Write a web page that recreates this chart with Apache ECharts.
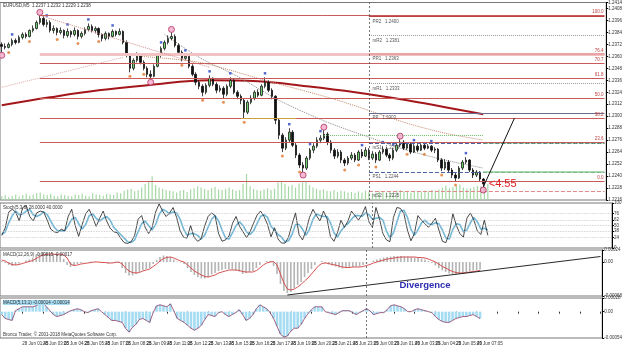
<!DOCTYPE html>
<html>
<head>
<meta charset="utf-8">
<script src="https://cdn.jsdelivr.net/npm/echarts@6/dist/echarts.min.js"></script>
<style>
  html, body { margin: 0; padding: 0; background: #fff; }
  #chart { width: 625px; height: 347px; }
</style>
</head>
<body>
<div id="chart"></div>
<script>
// EURUSD M5 bars: [open, close, low, high]
const ohlc = [
  [1.2372,1.2370,1.2364,1.2374],[1.2370,1.2369,1.2367,1.2373],[1.2369,1.2372,1.2368,1.2374],[1.2372,1.2376,1.2370,1.2378],
  [1.2376,1.2374,1.2372,1.2378],[1.2374,1.2379,1.2373,1.2381],[1.2379,1.2382,1.2377,1.2384],[1.2382,1.2380,1.2378,1.2384],
  [1.2380,1.2386,1.2379,1.2387],[1.2386,1.2388,1.2384,1.2391],[1.2388,1.2394,1.2387,1.2396],[1.2394,1.2398,1.2392,1.2401],
  [1.2398,1.2392,1.2390,1.2400],[1.2392,1.2394,1.2389,1.2397],[1.2394,1.2386,1.2384,1.2396],[1.2386,1.2388,1.2383,1.2391],
  [1.2388,1.2384,1.2381,1.2389],[1.2384,1.2386,1.2382,1.2389],[1.2386,1.2381,1.2378,1.2387],[1.2381,1.2385,1.2379,1.2388],
  [1.2385,1.2382,1.2379,1.2386],[1.2382,1.2386,1.2380,1.2389],[1.2386,1.2380,1.2377,1.2387],[1.2380,1.2383,1.2378,1.2385],
  [1.2383,1.2387,1.2381,1.2389],[1.2387,1.2390,1.2385,1.2393],[1.2390,1.2386,1.2384,1.2392],[1.2386,1.2388,1.2383,1.2390],
  [1.2388,1.2382,1.2379,1.2389],[1.2382,1.2378,1.2375,1.2383],[1.2378,1.2383,1.2376,1.2385],[1.2383,1.2380,1.2377,1.2384],
  [1.2380,1.2385,1.2379,1.2387],[1.2385,1.2382,1.2380,1.2386],[1.2382,1.2385,1.2381,1.2388],[1.2385,1.2374,1.2372,1.2386],
  [1.2374,1.2361,1.2359,1.2376],[1.2361,1.2348,1.2344,1.2363],[1.2348,1.2356,1.2346,1.2358],[1.2356,1.2361,1.2354,1.2364],
  [1.2361,1.2354,1.2352,1.2363],[1.2354,1.2348,1.2346,1.2356],[1.2348,1.2342,1.2339,1.2350],[1.2342,1.2340,1.2337,1.2346],
  [1.2340,1.2350,1.2339,1.2352],[1.2350,1.2361,1.2349,1.2363],[1.2361,1.2368,1.2359,1.2370],[1.2368,1.2374,1.2366,1.2376],
  [1.2374,1.2378,1.2372,1.2381],[1.2378,1.2380,1.2376,1.2384],[1.2380,1.2371,1.2369,1.2382],[1.2371,1.2364,1.2362,1.2373],
  [1.2364,1.2358,1.2355,1.2366],[1.2358,1.2360,1.2356,1.2362],[1.2360,1.2350,1.2348,1.2361],[1.2350,1.2342,1.2340,1.2352],
  [1.2342,1.2334,1.2331,1.2344],[1.2334,1.2330,1.2327,1.2336],[1.2330,1.2324,1.2320,1.2332],[1.2324,1.2331,1.2322,1.2333],
  [1.2331,1.2338,1.2329,1.2341],[1.2338,1.2332,1.2330,1.2339],[1.2332,1.2326,1.2323,1.2334],[1.2326,1.2328,1.2324,1.2331],
  [1.2328,1.2322,1.2318,1.2330],[1.2322,1.2330,1.2320,1.2332],[1.2330,1.2336,1.2328,1.2339],[1.2336,1.2324,1.2322,1.2337],
  [1.2324,1.2320,1.2317,1.2326],[1.2320,1.2316,1.2312,1.2322],[1.2316,1.2304,1.2298,1.2318],[1.2304,1.2314,1.2302,1.2316],
  [1.2314,1.2318,1.2312,1.2321],[1.2318,1.2324,1.2316,1.2326],[1.2324,1.2321,1.2319,1.2327],[1.2321,1.2330,1.2320,1.2332],
  [1.2330,1.2334,1.2328,1.2339],[1.2334,1.2326,1.2324,1.2336],[1.2326,1.2320,1.2317,1.2328],[1.2320,1.2296,1.2292,1.2321],
  [1.2296,1.2281,1.2277,1.2298],[1.2281,1.2268,1.2264,1.2283],[1.2268,1.2276,1.2266,1.2279],[1.2276,1.2284,1.2274,1.2288],
  [1.2284,1.2271,1.2269,1.2286],[1.2271,1.2261,1.2258,1.2273],[1.2261,1.2251,1.2248,1.2263],[1.2251,1.2248,1.2244,1.2254],
  [1.2248,1.2258,1.2246,1.2260],[1.2258,1.2266,1.2256,1.2268],[1.2266,1.2270,1.2263,1.2273],[1.2270,1.2276,1.2268,1.2279],
  [1.2276,1.2278,1.2273,1.2281],[1.2278,1.2282,1.2276,1.2286],[1.2282,1.2274,1.2271,1.2284],[1.2274,1.2266,1.2263,1.2276],
  [1.2266,1.2260,1.2257,1.2268],[1.2260,1.2264,1.2258,1.2267],[1.2264,1.2256,1.2253,1.2266],[1.2256,1.2253,1.2250,1.2258],
  [1.2253,1.2258,1.2251,1.2260],[1.2258,1.2261,1.2256,1.2264],[1.2261,1.2256,1.2254,1.2263],[1.2256,1.2264,1.2255,1.2266],
  [1.2264,1.2260,1.2258,1.2267],[1.2260,1.2266,1.2259,1.2269],[1.2266,1.2258,1.2256,1.2268],[1.2258,1.2262,1.2256,1.2265],
  [1.2262,1.2256,1.2253,1.2264],[1.2256,1.2264,1.2255,1.2266],[1.2264,1.2267,1.2262,1.2270],[1.2267,1.2261,1.2259,1.2269],
  [1.2261,1.2258,1.2255,1.2263],[1.2258,1.2266,1.2256,1.2268],[1.2266,1.2271,1.2264,1.2273],[1.2271,1.2274,1.2269,1.2277],
  [1.2274,1.2268,1.2266,1.2276],[1.2268,1.2272,1.2266,1.2274],[1.2272,1.2264,1.2262,1.2273],[1.2264,1.2270,1.2263,1.2272],
  [1.2270,1.2266,1.2264,1.2272],[1.2266,1.2271,1.2265,1.2273],[1.2271,1.2268,1.2266,1.2273],[1.2268,1.2270,1.2267,1.2272],
  [1.2270,1.2266,1.2264,1.2271],[1.2266,1.2267,1.2263,1.2269],[1.2267,1.2256,1.2254,1.2268],[1.2256,1.2248,1.2245,1.2258],
  [1.2248,1.2254,1.2246,1.2257],[1.2254,1.2246,1.2243,1.2256],[1.2246,1.2241,1.2238,1.2248],[1.2241,1.2238,1.2235,1.2243],
  [1.2238,1.2248,1.2237,1.2250],[1.2248,1.2254,1.2246,1.2256],[1.2254,1.2256,1.2252,1.2259],[1.2256,1.2246,1.2244,1.2257],
  [1.2246,1.2241,1.2238,1.2248],[1.2241,1.2244,1.2239,1.2246],[1.2244,1.2237,1.2235,1.2245],[1.2237,1.2232,1.2229,1.2238]
];

const volume = [
  60,80,50,70,90,60,80,100,70,90, 110,120,90,80,100,70,60,90,80,70,
  60,90,80,100,70,60,110,90,80,70, 100,90,80,120,110,150,170,180,140,160,
  200,260,300,380,240,200,180,160,150,140, 120,150,160,130,170,190,220,200,180,160,
  190,210,170,160,180,200,170,150,160,260, 420,220,180,160,150,170,190,160,180,280,
  300,260,220,240,200,260,280,300,240,200, 180,160,170,150,140,160,130,150,140,120,
  130,110,140,120,150,130,110,120,140,130, 120,140,130,150,160,140,130,120,150,140,
  130,150,140,160,150,170,200,230,190,210, 220,250,200,180,190,210,230,220,240,260
];

const stochMain = [
  28,45,80,86,80,60,90,94,70,60, 78,82,80,62,42,36,34,42,38,70,
  86,50,26,52,76,86,68,48,66,82, 60,44,36,34,22,12,10,14,28,64,
  72,46,32,46,80,98,82,70,78,90, 68,38,24,22,50,24,15,20,48,70,
  78,72,32,15,18,27,55,70,48,36, 23,36,55,73,82,70,52,25,45,20,
  11,11,24,52,78,30,18,38,68,86, 72,60,82,65,25,15,34,62,46,60,
  82,72,62,74,92,58,46,90,65,32, 18,14,68,90,88,76,40,16,32,72,
  62,54,46,55,66,40,15,12,34,76, 50,32,24,66,78,62,38,30,62,28
];
const stochSignal = [
  30,36,56,72,82,74,76,82,86,74, 70,74,80,74,60,46,38,38,38,50,
  64,68,54,42,52,72,76,66,60,66, 70,62,46,38,30,22,14,12,18,36,
  54,60,50,40,52,74,86,82,76,80, 78,64,42,28,32,32,28,20,28,46,
  64,72,60,40,22,20,34,50,58,50, 36,30,38,54,70,74,68,48,40,30,
  24,14,16,30,52,52,42,28,42,64, 76,72,70,70,56,34,24,38,48,54,
  64,72,72,70,78,74,64,66,68,62, 38,22,34,58,82,84,68,42,28,40,
  56,62,54,52,56,54,40,22,20,42, 54,52,36,40,56,68,58,42,44,40
];
const stochLevels = [23.6, 38.2, 50, 61.8, 76.4];

const macdMain = [
  0.00002,-0.00002,-0.00006,-0.00008,-0.00006,-0.00003,0,0.00003,0.00005,0.00009,
  0.00014,0.00018,0.0002,0.00018,0.00017,0.00016,0.00017,0.00015,0.00006,-0.00006,
  -0.0001,-0.00008,-0.00004,-0.00002,-0.00001,0,0.00001,0.00001,0,-0.00002,
  -0.00001,-0.00003,-0.00001,0.00001,-0.00002,-0.00012,-0.00022,-0.00027,-0.00027,-0.00024,
  -0.0002,-0.00016,-0.00014,-0.00012,-0.00004,0.00004,0.0001,0.00013,0.00012,0.0001,
  0.00005,0.00001,-0.00001,-0.00004,-0.00012,-0.0002,-0.00026,-0.0003,-0.00033,-0.00033,
  -0.0003,-0.00025,-0.00022,-0.00018,-0.00016,-0.00014,-0.00014,-0.00015,-0.00017,-0.00019,
  -0.00024,-0.00022,-0.0002,-0.00018,-0.00012,-0.00006,0,0.00002,0.00002,-0.00008,
  -0.00024,-0.00044,-0.00058,-0.00062,-0.0006,-0.00052,-0.00046,-0.0004,-0.0003,-0.00022,
  -0.00014,-0.00006,0,0.00002,-0.00002,-0.00005,-0.00007,-0.00009,-0.00011,-0.00013,
  -0.00012,-0.0001,-0.0001,-0.00009,-0.00009,-0.00006,-0.00003,0,0.00003,0.00005,
  0.00007,0.00009,0.0001,0.00011,0.00012,0.00012,0.00012,0.00011,0.00011,0.0001,
  0.00009,0.00008,0.00007,0.00005,0.00002,-0.00002,-0.00007,-0.00012,-0.00017,-0.0002,
  -0.00023,-0.00024,-0.00025,-0.00024,-0.00022,-0.0002,-0.00018,-0.00017,-0.00016,-0.00015
];
const macdSignal = [
  0.00004,0.00002,-0.00002,-0.00005,-0.00006,-0.00005,-0.00003,-0.00001,0.00001,0.00003,
  0.00007,0.00011,0.00014,0.00015,0.00016,0.00016,0.00015,0.00016,0.00014,0.00008,
  -0.00004,-0.00007,-0.00006,-0.00004,-0.00003,-0.00002,-0.00001,0,0,-0.00001,
  -0.00001,-0.00002,-0.00002,-0.00001,0,-0.00004,-0.00012,-0.00018,-0.00021,-0.00022,
  -0.00021,-0.00018,-0.00016,-0.00014,-0.00009,-0.00004,0.00002,0.00007,0.00009,0.0001,
  0.00008,0.00005,0.00002,0,-0.00006,-0.00012,-0.00018,-0.00022,-0.00026,-0.00029,
  -0.0003,-0.00028,-0.00026,-0.00022,-0.0002,-0.00018,-0.00016,-0.00016,-0.00016,-0.00017,
  -0.00019,-0.0002,-0.0002,-0.0002,-0.00017,-0.00012,-0.00006,-0.00002,0,0.00001,
  -0.00006,-0.00024,-0.00042,-0.00054,-0.00056,-0.00054,-0.0005,-0.00045,-0.00038,-0.00032,
  -0.00024,-0.00016,-0.00008,-0.00003,-0.00002,-0.00003,-0.00005,-0.00006,-0.00008,-0.0001,
  -0.00011,-0.00011,-0.0001,-0.0001,-0.0001,-0.00009,-0.00007,-0.00005,-0.00002,0,
  0.00002,0.00004,0.00006,0.00007,0.00008,0.00009,0.0001,0.0001,0.0001,0.0001,
  0.0001,0.00009,0.00009,0.00008,0.00006,0.00003,0,-0.00004,-0.00009,-0.00012,
  -0.00016,-0.00019,-0.00021,-0.00022,-0.00022,-0.00021,-0.0002,-0.00019,-0.00018,-0.00017
];
const osma = [
  -0.00006,-0.00014,-0.00016,-0.00018,0.00002,0.00006,0.0001,0.0001,0.0001,0.0001,
  0.00012,0.00016,0.00018,0.0001,0.00002,-0.00006,-0.0001,-0.00008,-0.00006,-0.00002,
  0.00002,0.00004,0.00006,0.00004,0,-0.00002,0.00002,0.00004,0.00006,0,
  -0.00006,-0.00012,-0.00018,-0.00018,-0.0002,-0.00022,-0.00034,-0.00042,-0.00032,-0.00026,
  -0.00016,-0.00014,-0.00018,-0.00022,-0.00002,0.00012,0.00014,0.00012,0.0001,0.00016,
  0.00002,-0.00014,-0.00018,-0.00022,-0.00028,-0.00034,-0.00038,-0.00034,-0.00028,-0.00016,
  -0.00006,-0.00008,-0.0001,-0.00002,0,-0.00006,-0.0001,-0.00006,-0.00002,0.00004,
  -0.00006,-0.00018,-0.00014,-0.00006,0.00006,0.00014,0.0001,0.00006,-0.00002,-0.00014,
  -0.0003,-0.00046,-0.00052,-0.0005,-0.0004,-0.00034,-0.00034,-0.00026,-0.00014,-0.00004,
  0.00004,0.0001,0.0001,0.0001,0,-0.00002,-0.00004,-0.00006,-0.00002,0.00002,
  0.00002,0.00002,-0.00002,-0.00006,-0.00002,0.00002,0.00006,0.00002,-0.00006,-0.00004,
  -0.00002,-0.00002,0.00004,0.00012,0.00014,0.00012,0.0001,0.00006,0,0,
  0.00004,0.00006,0.00004,0.00002,0,-0.00002,-0.0001,-0.00016,-0.0002,-0.00022,
  -0.00022,-0.00018,-0.00014,-0.00012,-0.0001,-0.0001,-0.00008,-0.00006,-0.0001,-0.00014
];

// moving averages, keypoints [bar, price]
const ma200 = [[0,1.2311],[14,1.2319],[28,1.2326],[42,1.2331],[60,1.2336],[74,1.2335],[88,1.2330],[102,1.2324],[117,1.2316],[128,1.2309],[139,1.2302]];
const maFast = [[47,1.2382],[57,1.2359],[68,1.2340],[80,1.2316],[94,1.2294],[106,1.2279],[117,1.2266],[128,1.2256],[139,1.2248]];
const maSlow = [[40,1.2360],[57,1.2354],[76,1.2336],[97,1.2316],[117,1.2293],[128,1.2283],[139,1.2276]];

const timeLabels = [
  '28 Jun 2018','28 Jun 01:45','28 Jun 03:05','28 Jun 04:25','28 Jun 05:45','28 Jun 07:05',
  '28 Jun 08:25','28 Jun 09:45','28 Jun 11:05','28 Jun 12:25','28 Jun 13:45','28 Jun 15:05',
  '28 Jun 16:25','28 Jun 17:45','28 Jun 19:05','28 Jun 20:25','28 Jun 21:45','28 Jun 23:05',
  '29 Jun 00:25','29 Jun 01:45','29 Jun 03:05','29 Jun 04:25','29 Jun 05:45','29 Jun 07:05'
];

const fibLevels = ['100.0','76.4','70.7','61.8','50.0','38.2','23.6','0.0'];
const fibPrices = [1.2401,1.2362,1.2353,1.2338,1.2318,1.2298,1.2274,1.2235];
const fibStart = 11;

const pivotNames = ['PR2','mR2','PR1','mR1','PP','mS1','PS1','mS2'];
const pivotPrices = [1.2400,1.2381,1.2363,1.2333,1.2303,1.2273,1.2244,1.2225];
const dayBreak = 106;

const swingHighs = [11, 49, 93, 115];
const swingLows = [0, 43, 87, 139];
const fractalHigh = [3,13,19,25,32,46,53,60,66,76,83,89,92,104,110,113,119,124,134];
const fractalLow = [2,8,16,22,28,37,41,52,58,64,70,81,86,99,103,108,117,122,127,131];

const resistance = [[93, 1.2281], [139, 1.2281]];
const breakLevel = [[69, 1.2298], [85, 1.2298]];
const trendDown = [[11, 1.2401], [60, 1.2349]];
const trendUp = [[0, 1.2329], [35, 1.2359]];
const prevLow = 1.2231;
const projection = [[139, 1.2229], [148, 1.2298]];
const countdown = '<4:55';
const divergence = [[83, -0.00066], [174, 0.00011]];
const divergenceText = [123, -0.00046];

const nCats = 175;
const categories = Array.from({ length: nCats }, (_, i) =>
  (i % 6 === 0 && timeLabels[i / 6]) ? timeLabels[i / 6] : '');

const font = 'Liberation Sans';
const tiny = { fontSize: 4.5, fontFamily: font, color: '#333' };
const last = ohlc[ohlc.length - 1];

const pivotStyle = {
  PR2: { color: '#c04040', width: 1, type: 'solid' },
  mR2: { color: '#9a9a9a', width: 1, type: 'dotted' },
  PR1: { color: '#eaa4a4', width: 2, type: 'solid' },
  mR1: { color: '#9a9a9a', width: 1, type: 'dotted' },
  PP:  { color: '#6c6c90', width: 1, type: 'solid' },
  mS1: { color: '#4a64a8', width: 1, type: 'dashed' },
  PS1: { color: '#4a64a8', width: 1, type: 'dashed' },
  mS2: { color: '#e08a8a', width: 1, type: 'dashed' }
};

const seg = (pts, style) => [
  { coord: pts[0], lineStyle: style, label: { show: false } },
  { coord: pts[1] }
];

const mainLines = [];
fibPrices.forEach((p, k) => mainLines.push([
  {
    coord: [fibStart, p],
    lineStyle: k === 1 ? { color: '#f2c2c2', width: 3, type: 'solid' } : { color: '#c85a5a', width: 1, type: 'solid' },
    label: { show: true, position: 'insideEndTop', formatter: fibLevels[k], fontSize: 4.5, fontFamily: font, color: '#c04040', distance: 1 }
  },
  { coord: [nCats - 1, p] }
]));
pivotPrices.forEach((p, k) => mainLines.push(seg([[dayBreak, p], [nCats - 1, p]], pivotStyle[pivotNames[k]])));
mainLines.push(seg([[ohlc.length - 1, pivotPrices[5]], [nCats - 1, pivotPrices[5]]], { color: '#6cbf6c', width: 1, type: 'dotted' }));
mainLines.push(seg([[ohlc.length - 1, pivotPrices[6]], [nCats - 1, pivotPrices[6]]], { color: '#8fcf8f', width: 1.5, type: 'solid' }));
mainLines.push(seg(resistance, { color: '#6cbf6c', width: 1, type: 'dotted' }));
mainLines.push(seg(breakLevel, { color: '#c8a040', width: 1.2, type: 'solid' }));
mainLines.push(seg(trendDown, { color: '#d48a8a', width: 1, type: 'dotted' }));
mainLines.push(seg(trendUp, { color: '#e2a8a8', width: 1, type: 'dotted' }));
mainLines.push({ yAxis: prevLow, lineStyle: { color: '#e49a9a', width: 1, type: 'dashed' }, label: { show: false } });
mainLines.push(seg(projection, { color: '#111', width: 1, type: 'solid' }));
mainLines.push({ xAxis: dayBreak, lineStyle: { color: '#555', width: 0.8, type: [2, 2] }, label: { show: false } });
mainLines.push({
  yAxis: last[1], lineStyle: { opacity: 0 },
  label: { show: true, position: 'end', distance: 1, formatter: last[1].toFixed(4), backgroundColor: '#000', color: '#fff', fontSize: 4.5, fontFamily: font, padding: [1, 1] }
});

const mainPoints = pivotNames.map((n, k) => ({
  coord: [dayBreak + 1, pivotPrices[k]],
  label: { show: true, position: 'right', distance: 0, offset: [0, 5], formatter: n + '   ' + pivotPrices[k].toFixed(4), fontSize: 4.5, fontFamily: font, color: '#555' }
}));
mainPoints.push({
  coord: [ohlc.length, last[1]],
  label: { show: true, position: 'right', distance: 2, formatter: countdown, fontSize: 11, fontFamily: font, color: '#e02020' }
});

const daySep = { silent: true, symbol: ['none', 'none'], animation: false, label: { show: false },
  data: [{ xAxis: dayBreak, lineStyle: { color: '#555', width: 0.8, type: [2, 2] } }] };

const hiddenX = (g) => ({ type: 'category', gridIndex: g, data: categories, boundaryGap: true,
  axisLine: { show: false }, axisTick: { show: false }, axisLabel: { show: false }, splitLine: { show: false } });

const rightAxis = (g, extra) => Object.assign({
  type: 'value', gridIndex: g, position: 'right', scale: false,
  axisLine: { show: true, lineStyle: { color: '#000', width: 1 } },
  axisTick: { show: true, length: 2, lineStyle: { color: '#000' } },
  axisLabel: Object.assign({ margin: 2 }, tiny),
  splitLine: { show: false }
}, extra);

const chart = echarts.init(document.getElementById('chart'));
chart.setOption({
  animation: false,
  backgroundColor: '#fff',
  title: [
    { text: 'EURUSD,M5  ' + last.map(v => v.toFixed(4)).join(' '), left: 3, top: 3, padding: 0, textStyle: Object.assign({ fontWeight: 'normal' }, tiny) },
    { text: 'Stoch(5,3,3) ' + stochMain[stochMain.length - 1].toFixed(4) + ' ' + stochSignal[stochSignal.length - 1].toFixed(4), left: 3, top: 205, padding: 0, textStyle: Object.assign({ fontWeight: 'normal' }, tiny) },
    { text: 'MACD(12,26,9) ' + macdMain[macdMain.length - 1].toFixed(5) + ' ' + macdSignal[macdSignal.length - 1].toFixed(5), left: 3, top: 252, padding: 0, textStyle: Object.assign({ fontWeight: 'normal' }, tiny) },
    { text: 'MACD(5,13,1) ' + osma[osma.length - 1].toFixed(5) + ' ' + osma[osma.length - 1].toFixed(5), left: 3, top: 300, padding: 0, backgroundColor: '#a6dcf2', textStyle: Object.assign({ fontWeight: 'normal' }, tiny) },
    { text: 'Bronco Trader, © 2001-2018 MetaQuotes Software Corp.', left: 3, top: 332, padding: 0, textStyle: Object.assign({ fontWeight: 'normal' }, tiny) }
  ],
  grid: [
    { left: 0, right: 13, top: 2, height: 198, show: true, borderColor: '#777', borderWidth: 1 },
    { left: 0, right: 13, top: 172, height: 28 },
    { left: 0, right: 13, top: 203, height: 45, show: true, borderColor: '#777', borderWidth: 1 },
    { left: 0, right: 13, top: 250, height: 46, show: true, borderColor: '#777', borderWidth: 1 },
    { left: 0, right: 13, top: 298, height: 40, show: true, borderColor: '#777', borderWidth: 1 }
  ],
  xAxis: [
    hiddenX(0), hiddenX(1), hiddenX(2), hiddenX(3),
    {
      type: 'category', gridIndex: 4, data: categories, boundaryGap: true,
      axisLine: { show: false },
      axisTick: { show: true, interval: 5, length: 2, alignWithLabel: true, lineStyle: { color: '#333' } },
      axisLabel: Object.assign({ interval: 5, align: 'left', margin: 3 }, tiny),
      splitLine: { show: false }
    }
  ],
  yAxis: [
    rightAxis(0, { min: 1.2216, max: 1.2414, interval: 0.0012,
      axisLabel: Object.assign({ margin: 2, formatter: v => v.toFixed(4) }, tiny) }),
    { type: 'value', gridIndex: 1, min: 0, max: 450, show: false },
    rightAxis(2, { min: 0, max: 100,
      axisTick: { show: true, length: 2, customValues: [0, 23.6, 38.2, 50, 61.8, 76.4, 100] },
      axisLabel: Object.assign({ margin: 2, customValues: [0, 23.6, 38.2, 50, 61.8, 76.4, 100], formatter: v => String(Math.round(v)) }, tiny) }),
    rightAxis(3, { min: -0.00068, max: 0.00024,
      axisTick: { show: true, length: 2, customValues: [-0.00068, 0, 0.00024] },
      axisLabel: Object.assign({ margin: 2, customValues: [-0.00068, 0, 0.00024], formatter: v => v === 0 ? '0.00' : v.toFixed(5) }, tiny) }),
    rightAxis(4, { min: -0.00054, max: 0.00028,
      axisTick: { show: true, length: 2, customValues: [-0.00054, 0, 0.00028] },
      axisLabel: Object.assign({ margin: 2, customValues: [-0.00054, 0, 0.00028], formatter: v => v === 0 ? '0.00' : v.toFixed(5) }, tiny) })
  ],
  series: [
    { type: 'bar', name: 'Volume', xAxisIndex: 1, yAxisIndex: 1, data: volume, barWidth: 1.2,
      itemStyle: { color: '#a6d8a6' }, silent: true, z: 1 },
    { type: 'line', name: 'MA200', data: ma200, smooth: 0.4, symbol: 'none', silent: true,
      lineStyle: { color: '#a3171b', width: 2 }, z: 2 },
    { type: 'line', name: 'MAfast', data: maFast, smooth: 0.3, symbol: 'none', silent: true,
      lineStyle: { color: '#8a8a8a', width: 1, type: 'dotted' }, z: 2 },
    { type: 'line', name: 'MAslow', data: maSlow, smooth: 0.3, symbol: 'none', silent: true,
      lineStyle: { color: '#c48a6a', width: 1, type: 'dotted' }, z: 2 },
    {
      type: 'candlestick', name: 'EURUSD', data: ohlc, barWidth: 2, z: 3,
      itemStyle: { color: '#6fd26f', color0: '#111', borderColor: '#1a1a1a', borderColor0: '#111', borderWidth: 0.8 },
      markLine: { silent: true, symbol: ['none', 'none'], animation: false, label: { show: false }, data: mainLines },
      markPoint: { silent: true, symbol: 'circle', symbolSize: 0, itemStyle: { color: 'transparent' }, data: mainPoints }
    },
    { type: 'scatter', name: 'fractalUp', data: fractalHigh.map(i => [i, ohlc[i][3]]), symbol: 'rect', symbolSize: 2.5,
      symbolOffset: [0, -4], itemStyle: { color: '#2442c0' }, silent: true, z: 4 },
    { type: 'scatter', name: 'fractalDown', data: fractalLow.map(i => [i, ohlc[i][2]]), symbol: 'circle', symbolSize: 3,
      symbolOffset: [0, 4], itemStyle: { color: '#e07830' }, silent: true, z: 4 },
    { type: 'scatter', name: 'swingHigh', data: swingHighs.map(i => [i, ohlc[i][3]]), symbolSize: 6, symbolOffset: [0, -3],
      itemStyle: { color: '#f2a8c8', borderColor: '#b03060', borderWidth: 1 }, silent: true, z: 5 },
    { type: 'scatter', name: 'swingLow', data: swingLows.map(i => [i, ohlc[i][2]]), symbolSize: 6, symbolOffset: [0, 3],
      itemStyle: { color: '#f2a8c8', borderColor: '#b03060', borderWidth: 1 }, silent: true, z: 5 },

    { type: 'line', name: 'Signal', xAxisIndex: 2, yAxisIndex: 2, data: stochSignal, symbol: 'none', silent: true,
      lineStyle: { color: '#74b8d8', width: 1.6 } },
    { type: 'line', name: 'Stoch', xAxisIndex: 2, yAxisIndex: 2, data: stochMain, symbol: 'none', silent: true,
      lineStyle: { color: '#1a1a1a', width: 0.8 },
      markLine: { silent: true, symbol: ['none', 'none'], animation: false, label: { show: false },
        data: stochLevels.map(v => ({ yAxis: v, lineStyle: { color: '#c4c4c4', width: 0.8, type: 'dotted' } }))
          .concat([{ xAxis: dayBreak, lineStyle: { color: '#555', width: 0.8, type: [2, 2] } }]) } },

    { type: 'bar', name: 'MACD', xAxisIndex: 3, yAxisIndex: 3, data: macdMain, barWidth: 1.6, silent: true,
      itemStyle: { color: '#b4b4b4' }, markLine: daySep },
    { type: 'line', name: 'MACD signal', xAxisIndex: 3, yAxisIndex: 3, data: macdSignal, symbol: 'none', silent: true,
      lineStyle: { color: '#d24040', width: 0.9 },
      markLine: { silent: true, symbol: ['none', 'none'], animation: false, label: { show: false },
        data: [seg(divergence, { color: '#111', width: 0.9, type: 'solid' })] },
      markPoint: { silent: true, symbol: 'circle', symbolSize: 0, itemStyle: { color: 'transparent' },
        data: [{ coord: divergenceText, label: { show: true, position: 'inside', formatter: 'Divergence', fontSize: 9.5, fontWeight: 'bold', fontFamily: font, color: '#2c2cb0' } }] } },

    { type: 'bar', name: 'OsMA', xAxisIndex: 4, yAxisIndex: 4, data: osma, barWidth: 2.6, silent: true,
      itemStyle: { color: '#a6dcf2' }, markLine: daySep },
    { type: 'line', name: 'OsMA line', xAxisIndex: 4, yAxisIndex: 4, data: osma, symbol: 'none', silent: true,
      lineStyle: { color: '#8b3a62', width: 0.8 } }
  ]
});
</script>
</body>
</html>
